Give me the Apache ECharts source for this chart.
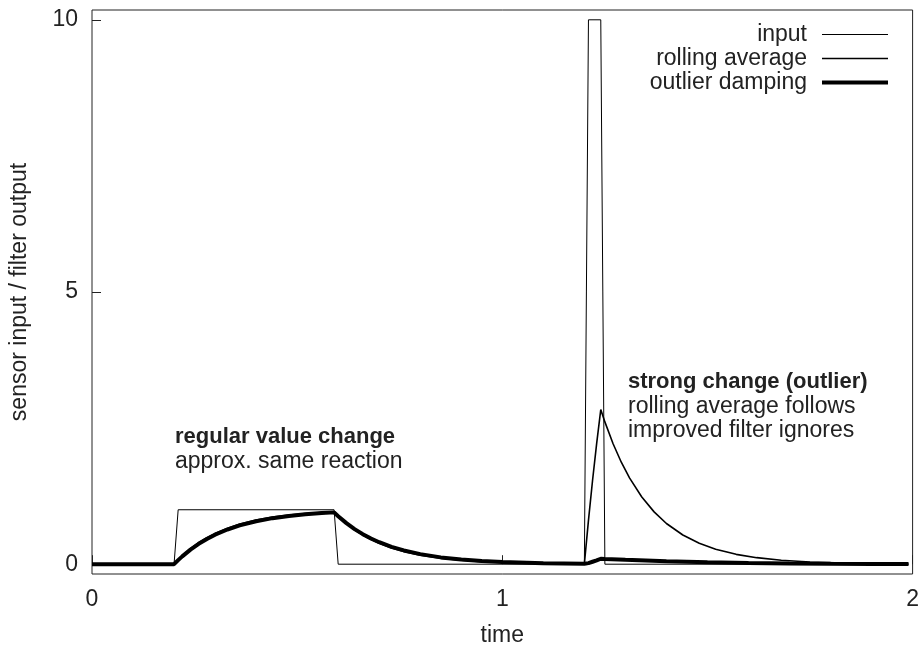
<!DOCTYPE html>
<html>
<head>
<meta charset="utf-8">
<script src="https://cdn.jsdelivr.net/npm/echarts@6/dist/echarts.min.js"></script>
<style>html,body{margin:0;padding:0;background:#fff}#c{width:922px;height:652px}</style>
</head>
<body>
<div id="c"></div>
<script>
// ---- data ----
const inputTime = [0, 0.2, 0.21, 0.59, 0.6, 1.2, 1.21, 1.24, 1.25, 1.99];
const inputValue = [0, 0, 1, 1, 0, 0, 10, 10, 0, 0];

const rollTime = [0, 0.2, 0.21, 0.22, 0.24, 0.26, 0.28, 0.30, 0.33, 0.36, 0.40, 0.44, 0.48, 0.52, 0.56, 0.59,
  0.60, 0.62, 0.64, 0.66, 0.68, 0.70, 0.73, 0.76, 0.80, 0.85, 0.90, 0.95, 1.00, 1.10, 1.20,
  1.21, 1.22, 1.23, 1.24, 1.25, 1.27, 1.29, 1.31, 1.34, 1.37, 1.40, 1.44, 1.48, 1.52, 1.57, 1.62, 1.68, 1.75, 1.83, 1.92, 1.99];
const rollValue = [0, 0, 0.08, 0.154, 0.284, 0.394, 0.487, 0.566, 0.662, 0.737, 0.811, 0.865, 0.903, 0.931, 0.950, 0.961,
  0.884, 0.748, 0.633, 0.536, 0.454, 0.384, 0.299, 0.233, 0.167, 0.110, 0.072, 0.048, 0.031, 0.014, 0.006,
  0.806, 1.542, 2.219, 2.841, 2.614, 2.212, 1.873, 1.585, 1.234, 0.961, 0.748, 0.536, 0.384, 0.275, 0.181, 0.120, 0.073, 0.040, 0.021, 0.010, 0.005];

const dampTime = [0, 0.2, 0.21, 0.22, 0.24, 0.26, 0.28, 0.30, 0.33, 0.36, 0.40, 0.44, 0.48, 0.52, 0.56, 0.59,
  0.60, 0.62, 0.64, 0.66, 0.68, 0.70, 0.73, 0.76, 0.80, 0.85, 0.90, 0.95, 1.00, 1.10, 1.20,
  1.21, 1.22, 1.23, 1.24, 1.25, 1.30, 1.40, 1.50, 1.60, 1.70, 1.80, 1.90, 1.99];
const dampValue = [0, 0, 0.075, 0.144, 0.268, 0.374, 0.464, 0.542, 0.637, 0.713, 0.790, 0.846, 0.887, 0.918, 0.940, 0.952,
  0.881, 0.754, 0.645, 0.552, 0.472, 0.404, 0.319, 0.253, 0.185, 0.125, 0.085, 0.057, 0.039, 0.019, 0.009,
  0.02, 0.045, 0.07, 0.10, 0.095, 0.08, 0.055, 0.035, 0.022, 0.013, 0.008, 0.004, 0.002];

const seriesNames = ['input', 'rolling average', 'outlier damping'];
const xTicks = [0, 1, 2];
const yTicks = [0, 5, 10];

function pairs(t, v) { return t.map((x, i) => [x, v[i]]); }

const FONT = '"Liberation Sans", Arial, Helvetica, sans-serif';
const TXT = '#222';
const FS = 23;
const FSB = 22;

const chart = echarts.init(document.getElementById('c'), null, { renderer: 'canvas' });
chart.setOption({
  animation: false,
  backgroundColor: '#fff',
  textStyle: { fontFamily: FONT },
  grid: { left: 91, right: 5, top: 10, bottom: 71, show: true, borderColor: '#222', borderWidth: 1, containLabel: false },
  legend: {
    data: [
      { name: seriesNames[0], icon: 'path://M0,0H66V1.2H0Z' },
      { name: seriesNames[1], icon: 'path://M0,0H66V1.7H0Z' },
      { name: seriesNames[2], icon: 'path://M0,0H66V4H0Z' }
    ],
    orient: 'vertical',
    right: 29,
    top: 18,
    align: 'right',
    itemWidth: 66,
    itemHeight: 14,
    itemGap: 1,
    symbolKeepAspect: true,
    textStyle: { fontFamily: FONT, fontSize: FS, color: TXT, padding: [0, 10, 0, 0] }
  },
  xAxis: {
    type: 'value', min: 0, max: 2, interval: 1,
    name: 'time', nameLocation: 'middle', nameGap: 50,
    nameTextStyle: { fontFamily: FONT, fontSize: FS, color: TXT },
    axisLine: { show: false },
    axisTick: { show: true, inside: true, length: 9, lineStyle: { color: '#222', width: 1 }, customValues: xTicks },
    axisLabel: { fontFamily: FONT, fontSize: FS, color: TXT, margin: 14, customValues: xTicks },
    splitLine: { show: false }
  },
  yAxis: {
    type: 'value', min: -0.18, max: 10.18,
    name: 'sensor input / filter output', nameLocation: 'middle', nameGap: 61, nameRotate: 90,
    nameTextStyle: { fontFamily: FONT, fontSize: FS, color: TXT },
    axisLine: { show: false },
    axisTick: { show: true, inside: true, length: 9, lineStyle: { color: '#222', width: 1 }, customValues: yTicks },
    axisLabel: { fontFamily: FONT, fontSize: FS, color: TXT, margin: 14, customValues: yTicks },
    splitLine: { show: false }
  },
  series: [
    { name: seriesNames[0], type: 'line', data: pairs(inputTime, inputValue), symbol: 'none', z: 2,
      lineStyle: { color: '#000', width: 1 }, itemStyle: { color: '#000' } },
    { name: seriesNames[1], type: 'line', data: pairs(rollTime, rollValue), symbol: 'none', z: 3,
      lineStyle: { color: '#000', width: 1.6 }, itemStyle: { color: '#000' } },
    { name: seriesNames[2], type: 'line', data: pairs(dampTime, dampValue), symbol: 'none', z: 4,
      lineStyle: { color: '#000', width: 4 }, itemStyle: { color: '#000' } }
  ],
  graphic: [
    { type: 'text', left: 175, top: 426, style: { text: 'regular value change', font: 'bold ' + FSB + 'px ' + FONT, fill: TXT } },
    { type: 'text', left: 175, top: 450, style: { text: 'approx. same reaction', font: FS + 'px ' + FONT, fill: TXT } },
    { type: 'text', left: 628, top: 371, style: { text: 'strong change (outlier)', font: 'bold ' + FSB + 'px ' + FONT, fill: TXT } },
    { type: 'text', left: 628, top: 395, style: { text: 'rolling average follows', font: FS + 'px ' + FONT, fill: TXT } },
    { type: 'text', left: 628, top: 419, style: { text: 'improved filter ignores', font: FS + 'px ' + FONT, fill: TXT } }
  ]
});
</script>
</body>
</html>
